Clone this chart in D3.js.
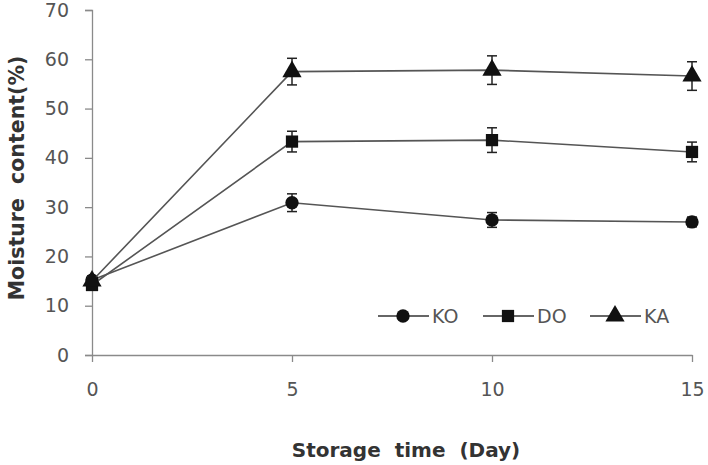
<!DOCTYPE html>
<html>
<head>
<meta charset="utf-8">
<script src="https://cdn.jsdelivr.net/npm/d3@7"></script>
<style>
    body { margin: 0; background: #fff; }
    text { font-family: "DejaVu Sans", "Noto Sans", sans-serif; }
</style>
</head>
<body>
<div id="chart"></div>
<script>
// storage days
const days = [0, 5, 10, 15];

// moisture content (%) per sample
const seriesNames = ["KO", "DO", "KA"];
const koValues = [15.2, 30.9, 27.4, 27.0];
const doValues = [14.2, 43.3, 43.6, 41.2];
const kaValues = [15.0, 57.5, 57.8, 56.6];

// standard deviations
const koErrors = [0.8, 1.8, 1.5, 1.0];
const doErrors = [0.8, 2.1, 2.5, 2.0];
const kaErrors = [0.8, 2.7, 2.9, 2.9];

const yTicks = [0, 10, 20, 30, 40, 50, 60, 70];
const xTicks = [0, 5, 10, 15];

const series = [
    {name: seriesNames[0], values: koValues, errors: koErrors, symbol: d3.symbolCircle},
    {name: seriesNames[1], values: doValues, errors: doErrors, symbol: d3.symbolSquare},
    {name: seriesNames[2], values: kaValues, errors: kaErrors, symbol: d3.symbolTriangle}
];

const width = 708, height = 465;
const margin = {top: 10, right: 16, bottom: 110, left: 92};

const svg = d3.select("#chart").append("svg")
    .attr("width", width)
    .attr("height", height);

const x = d3.scaleLinear().domain([0, 15]).range([margin.left, width - margin.right]);
const y = d3.scaleLinear().domain([0, 70]).range([height - margin.bottom, margin.top]);

// y axis
const yAxis = svg.append("g")
    .attr("transform", `translate(${margin.left},0)`)
    .call(d3.axisLeft(y).tickValues(yTicks).tickSize(7).tickPadding(16));
yAxis.selectAll("path, line").attr("stroke", "#8a8a8a").attr("stroke-width", 1.3);
yAxis.selectAll("text").attr("font-size", 19).attr("fill", "#555");

// x axis
const xAxis = svg.append("g")
    .attr("transform", `translate(0,${y(0)})`)
    .call(d3.axisBottom(x).tickValues(xTicks).tickSize(7).tickPadding(21).tickSizeOuter(0));
xAxis.selectAll("path, line").attr("stroke", "#8a8a8a").attr("stroke-width", 1.3);
xAxis.selectAll("text").attr("font-size", 19).attr("fill", "#555");

// axis titles
svg.append("text")
    .attr("x", 406)
    .attr("y", 457)
    .attr("text-anchor", "middle")
    .attr("font-size", 20)
    .attr("font-weight", "bold")
    .attr("fill", "#333")
    .attr("xml:space", "preserve")
    .text("Storage  time  (Day)");

svg.append("text")
    .attr("transform", "translate(24, 178) rotate(-90)")
    .attr("text-anchor", "middle")
    .attr("font-size", 20.5)
    .attr("font-weight", "bold")
    .attr("fill", "#333")
    .attr("xml:space", "preserve")
    .text("Moisture  content(%)");

const line = d3.line()
    .x((d, i) => x(days[i]))
    .y(d => y(d));

const symbolSize = {KO: 140, DO: 150, KA: 160};

series.forEach(s => {
    // lines
    svg.append("path")
        .datum(s.values)
        .attr("fill", "none")
        .attr("stroke", "#555")
        .attr("stroke-width", 1.6)
        .attr("d", line);

    // error bars
    const eb = svg.append("g").selectAll("g")
        .data(s.values.map((v, i) => ({v: v, e: s.errors[i], d: days[i]})))
        .enter().append("g");
    eb.append("line")
        .attr("x1", d => x(d.d)).attr("x2", d => x(d.d))
        .attr("y1", d => y(d.v - d.e)).attr("y2", d => y(d.v + d.e))
        .attr("stroke", "#222").attr("stroke-width", 1.5);
    eb.append("line")
        .attr("x1", d => x(d.d) - 5).attr("x2", d => x(d.d) + 5)
        .attr("y1", d => y(d.v + d.e)).attr("y2", d => y(d.v + d.e))
        .attr("stroke", "#222").attr("stroke-width", 1.5);
    eb.append("line")
        .attr("x1", d => x(d.d) - 5).attr("x2", d => x(d.d) + 5)
        .attr("y1", d => y(d.v - d.e)).attr("y2", d => y(d.v - d.e))
        .attr("stroke", "#222").attr("stroke-width", 1.5);

    // markers
    svg.append("g").selectAll("path")
        .data(s.values)
        .enter().append("path")
        .attr("transform", (d, i) => `translate(${x(days[i])},${y(d)})`)
        .attr("d", d3.symbol().type(s.symbol).size(symbolSize[s.name]))
        .attr("fill", "#111");
});

// legend
const legendX = [378, 483, 590];
const legend = svg.append("g").attr("transform", "translate(0, 316)");
series.forEach((s, i) => {
    const g = legend.append("g").attr("transform", `translate(${legendX[i]},0)`);
    g.append("line")
        .attr("x1", 0).attr("x2", 51)
        .attr("stroke", "#333").attr("stroke-width", 1.6);
    g.append("path")
        .attr("transform", "translate(25,0)")
        .attr("d", d3.symbol().type(s.symbol).size(symbolSize[s.name]))
        .attr("fill", "#111");
    g.append("text")
        .attr("x", 54)
        .attr("y", 7)
        .attr("font-size", 19)
        .attr("fill", "#555")
        .text(s.name);
});
</script>
</body>
</html>
